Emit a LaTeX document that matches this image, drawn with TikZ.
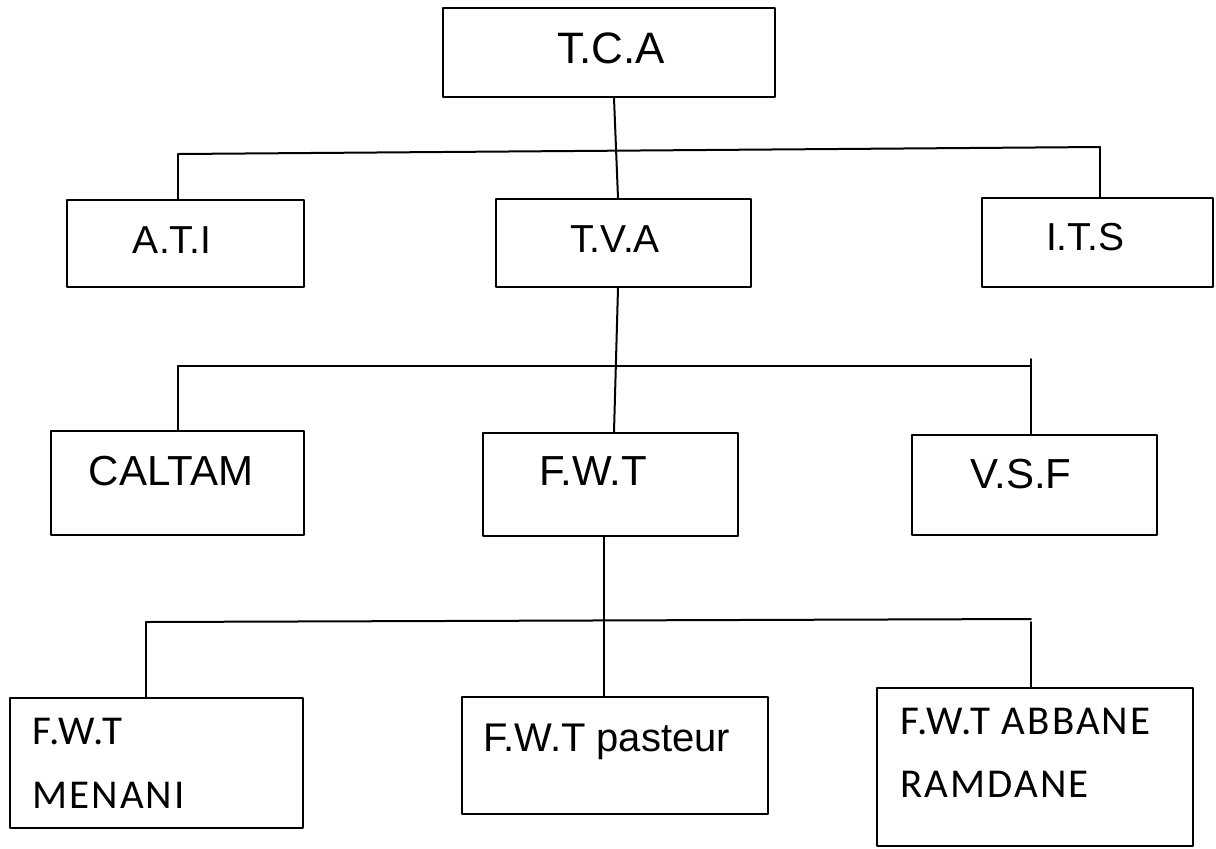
\documentclass[tikz,border=0pt]{standalone}
\usepackage{fontspec}
\setmainfont{Liberation Sans}
\newfontfamily\carlito[LetterSpace=5]{Carlito}
\usetikzlibrary{calc}

\begin{document}
\begin{tikzpicture}[line cap=round,line join=round,x=0.5pt,y=-0.5pt,
	box/.style={draw,line width=1pt,rectangle,inner sep=0pt},
	lbl/.style={anchor=base,inner sep=0pt},
	lblw/.style={anchor=base west,inner sep=0pt},
	link/.style={line width=1pt}]
	\useasboundingbox (0,0) rectangle (1216,848);
	% boxes
	\node[box,minimum width=166pt,minimum height=44.5pt] (tca) at (609,52.5) {};
	\node[box,minimum width=118.5pt,minimum height=43.5pt] (ati) at (185.5,243.5) {};
	\node[box,minimum width=127.5pt,minimum height=44pt] (tva) at (623.5,243) {};
	\node[box,minimum width=115.5pt,minimum height=44.5pt] (its) at (1097.5,242.5) {};
	\node[box,minimum width=126.5pt,minimum height=52pt] (caltam) at (177.5,483) {};
	\node[box,minimum width=127.5pt,minimum height=51.5pt] (fwt) at (610.5,484.5) {};
	\node[box,minimum width=122.5pt,minimum height=50pt] (vsf) at (1034.5,485) {};
	\node[box,minimum width=146.5pt,minimum height=65pt] (menani) at (156.5,763) {};
	\node[box,minimum width=153pt,minimum height=58.5pt] (pasteur) at (615,755.5) {};
	\node[box,minimum width=158pt,minimum height=79pt] (abbane) at (1035,767) {};
	% texts
	\node[lbl,font=\fontsize{22}{26}\selectfont] (tcatxt) at (611,63) {T.C.A};
	\node[lbl,font=\fontsize{19.5}{23}\selectfont] (atitxt) at (172,253) {A.T.I};
	\node[lbl,font=\fontsize{19.5}{23}\selectfont] (tvatxt) at (615,252) {T.V.A};
	\node[lbl,font=\fontsize{19.5}{23}\selectfont] (itstxt) at (1085,250) {I.T.S};
	\node[lbl,font=\fontsize{21}{25}\selectfont] (caltamtxt) at (171,485) {CALTAM};
	\node[lbl,font=\fontsize{21}{25}\selectfont] (fwttxt) at (593,485) {F.W.T};
	\node[lbl,font=\fontsize{21}{25}\selectfont] (vsftxt) at (1021,488) {V.S.F};
	\node[lblw,font=\carlito\fontsize{20.5}{24}\selectfont] (menanitxt) at (32,744) {F.W.T};
	\node[lblw,font=\carlito\fontsize{20.5}{24}\selectfont] (menanitxtb) at (32,808) {MENANI};
	\node[lblw,font=\fontsize{20}{24}\selectfont] (pasteurtxt) at (483,751) {F.W.T pasteur};
	\node[lblw,font=\carlito\fontsize{20.5}{24}\selectfont] (abbanetxt) at (900,734) {F.W.T ABBANE};
	\node[lblw,font=\carlito\fontsize{20.5}{24}\selectfont] (abbanetxtb) at (900,797) {RAMDANE};
	% junctions
	\coordinate (jal) at (178,154);
	\coordinate (jar) at (1100,147);
	\coordinate (jbl) at (178,366);
	\coordinate (jbr) at (1031,366);
	\coordinate (jcl) at (146,622);
	\coordinate (jcr) at (1031,619);
	% links
	\draw[link] ($(tca.south west)+(172,0)$) -- ($(tva.north west)+(123,0)$);
	\draw[link] (jal) -- (jar);
	\draw[link] (jal) -- (jal |- ati.north);
	\draw[link] (jar) -- (jar |- its.north);
	\draw[link] ($(tva.south west)+(123,0)$) -- ($(fwt.north west)+(132,0)$);
	\draw[link] (jbl) -- (jbr);
	\draw[link] (jbl) -- (jbl |- caltam.north);
	\draw[link] ($(jbr)+(0,-7)$) -- (jbr |- vsf.north);
	\draw[link] ($(fwt.south west)+(122,0)$) -- ($(pasteur.north west)+(143,0)$);
	\draw[link] (jcl) -- (jcr);
	\draw[link] (jcl) -- (jcl |- menani.north);
	\draw[link] ($(jcr)+(0,3)$) -- (jcr |- abbane.north);
\end{tikzpicture}
\end{document}
